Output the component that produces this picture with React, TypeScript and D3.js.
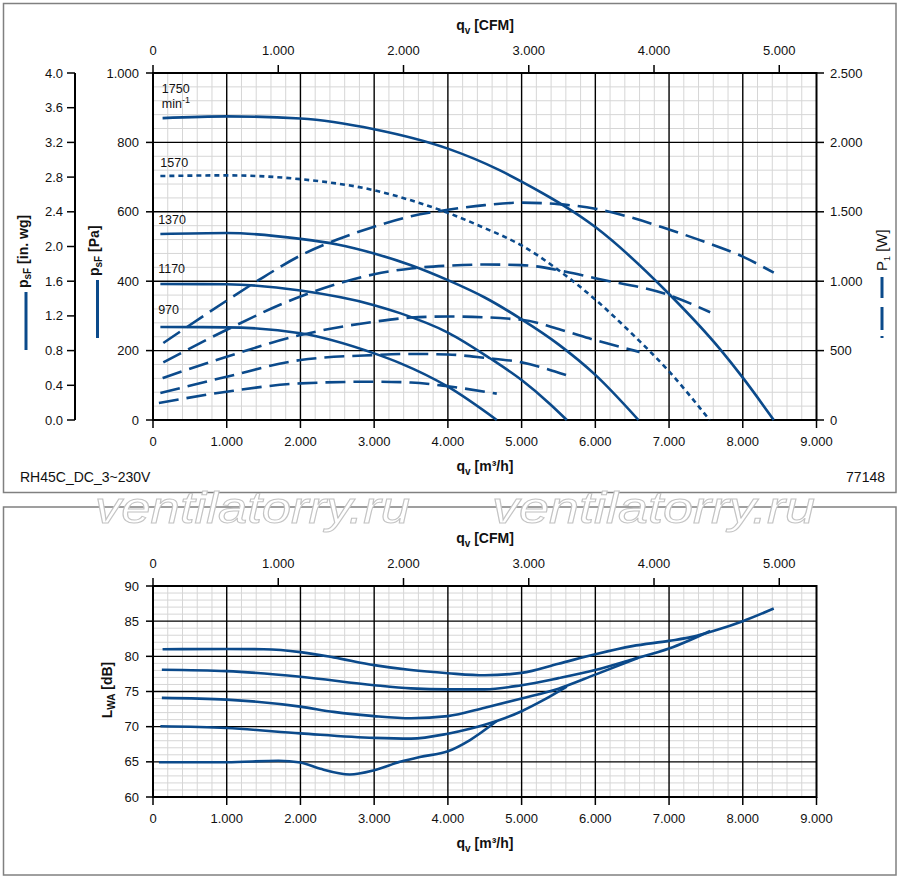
import * as d3 from 'd3';

// axis ticks
const FLOW_TICKS = [0, 1000, 2000, 3000, 4000, 5000, 6000, 7000, 8000, 9000];
const CFM_TICKS = [0, 1000, 2000, 3000, 4000, 5000];
const PA_TICKS = [0, 200, 400, 600, 800, 1000];
const INWG_TICKS = [0, 0.4, 0.8, 1.2, 1.6, 2.0, 2.4, 2.8, 3.2, 3.6, 4.0];
const W_TICKS = [0, 500, 1000, 1500, 2000, 2500];
const DB_TICKS = [60, 65, 70, 75, 80, 85, 90];

const SPEEDS = ['1750', '1570', '1370', '1170', '970'];

// static pressure p_sF [Pa] over q_v [m³/h]
const Q_PSF_1750 = [130, 1000, 2000, 3000, 4000, 4700, 5000, 6000, 7000, 7700, 8000, 8420];
const PSF_1750 = [870, 875, 869, 838, 782, 720, 687, 556, 363, 202, 122, 0];
const Q_PSF_1570 = [100, 1000, 2000, 3000, 3500, 4000, 4500, 5000, 5500, 6000, 6500, 7000, 7550];
const PSF_1570 = [703, 705, 694, 662, 633, 597, 553, 503, 432, 347, 248, 140, 0];
const Q_PSF_1370 = [100, 1000, 2000, 2500, 3000, 3500, 4000, 4500, 5000, 5500, 6000, 6585];
const PSF_1370 = [536, 539, 522, 506, 480, 446, 403, 353, 290, 218, 130, 0];
const Q_PSF_1170 = [100, 1000, 2000, 3000, 3350, 4000, 4570, 5000, 5380, 5613];
const PSF_1170 = [392, 391, 373, 331, 308, 252, 178, 115, 47, 0];
const Q_PSF_970 = [100, 1000, 2000, 3000, 3350, 4000, 4663];
const PSF_970 = [268, 267, 250, 192, 164, 96, 0];

// input power P1 [W]
const Q_P1_1750 = [140, 1000, 1500, 2000, 2500, 3000, 3500, 4000, 4500, 5000, 5500, 6000, 6500, 7000, 7500, 8000, 8420];
const P1_1750 = [555, 860, 1030, 1185, 1300, 1393, 1468, 1515, 1548, 1566, 1555, 1522, 1457, 1372, 1280, 1177, 1061];
const Q_P1_1570 = [140, 1000, 2000, 3000, 3500, 4000, 4500, 5000, 5600, 6000, 7000, 7558];
const P1_1570 = [415, 650, 890, 1050, 1092, 1112, 1120, 1116, 1068, 1021, 900, 776];
const Q_P1_1370 = [130, 1000, 2000, 3000, 3500, 4000, 5000, 5500, 6000, 6600];
const P1_1370 = [302, 456, 612, 708, 738, 746, 722, 655, 575, 490];
const Q_P1_1170 = [100, 1000, 2000, 3000, 3500, 4000, 4500, 5000, 5613];
const P1_1170 = [194, 312, 432, 468, 476, 472, 448, 415, 322];
const Q_P1_970 = [80, 1000, 2000, 3000, 3500, 4000, 4663];
const P1_970 = [122, 204, 264, 276, 270, 243, 190];

// sound power L_WA [dB]
const Q_LWA_1750 = [130, 1000, 1500, 2000, 2450, 3000, 3500, 4000, 4500, 5000, 5500, 6000, 6500, 7000, 7330, 7600, 8000, 8420];
const LWA_1750 = [81.0, 81.05, 81.0, 80.6, 79.85, 78.75, 78.05, 77.6, 77.3, 77.65, 78.95, 80.3, 81.45, 82.2, 82.8, 83.6, 85.0, 86.8];
const Q_LWA_1570 = [120, 1000, 2000, 3000, 3500, 4000, 4500, 5000, 5500, 6000, 6500, 7000, 7558];
const LWA_1570 = [78.1, 77.9, 77.1, 75.9, 75.45, 75.3, 75.3, 75.9, 76.9, 78.05, 79.55, 81.1, 83.6];
const Q_LWA_1370 = [120, 1000, 2000, 2450, 3000, 3500, 4000, 4500, 5000, 5500, 6000, 6585];
const LWA_1370 = [74.1, 73.85, 72.85, 72.1, 71.5, 71.2, 71.5, 72.7, 74.0, 75.4, 77.4, 79.8];
const Q_LWA_1170 = [100, 1000, 2000, 3000, 3500, 4000, 4300, 4663, 5000, 5300, 5613];
const LWA_1170 = [70.05, 69.8, 69.05, 68.4, 68.3, 69.0, 69.7, 70.8, 72.2, 73.8, 75.7];
const Q_LWA_970 = [80, 1000, 1700, 2000, 2270, 2670, 3000, 3350, 3620, 4000, 4300, 4663];
const LWA_970 = [64.95, 64.95, 65.15, 64.9, 64.0, 63.2, 63.8, 65.0, 65.7, 66.5, 68.1, 70.8];

// speed label anchors (q, Pa)
const LABEL_Q = [120, 100, 70, 70, 70];
const LABEL_PA = [942, 729, 565, 424, 305];

const BLUE = '#0b4a8b';
const FONT = '"Liberation Sans", Arial, Helvetica, sans-serif';
const MINOR = '#d6d6d6';

const fmt = d3.formatLocale({ decimal: ',', thousands: '.', grouping: [3], currency: ['', ''] }).format(',');
const fmtWg = d3.format('.1f');

type Pt = [number, number];
const zip = (q: number[], v: number[]): Pt[] => q.map((d, i) => [d, v[i]]);

export default function App() {
  const x = d3.scaleLinear().domain([0, 9000]).range([153, 816.5]);
  const xCfm = d3.scaleLinear().domain([0, 9000 / 1.699]).range([153, 816.5]);
  const yPa = d3.scaleLinear().domain([0, 1000]).range([420, 73]);
  const yWg = d3.scaleLinear().domain([0, 4]).range([420, 73]);
  const yW = d3.scaleLinear().domain([0, 2500]).range([420, 73]);
  const yDb = d3.scaleLinear().domain([60, 90]).range([797, 586]);

  const linePa = d3.line<Pt>().x(d => x(d[0])).y(d => yPa(d[1])).curve(d3.curveMonotoneX);
  const lineW = d3.line<Pt>().x(d => x(d[0])).y(d => yW(d[1])).curve(d3.curveMonotoneX);
  const lineDb = d3.line<Pt>().x(d => x(d[0])).y(d => yDb(d[1])).curve(d3.curveMonotoneX);

  const psf = [
    zip(Q_PSF_1750, PSF_1750),
    zip(Q_PSF_1570, PSF_1570),
    zip(Q_PSF_1370, PSF_1370),
    zip(Q_PSF_1170, PSF_1170),
    zip(Q_PSF_970, PSF_970),
  ];
  const p1 = [
    zip(Q_P1_1750, P1_1750),
    zip(Q_P1_1570, P1_1570),
    zip(Q_P1_1370, P1_1370),
    zip(Q_P1_1170, P1_1170),
    zip(Q_P1_970, P1_970),
  ];
  const lwa = [
    zip(Q_LWA_1750, LWA_1750),
    zip(Q_LWA_1570, LWA_1570),
    zip(Q_LWA_1370, LWA_1370),
    zip(Q_LWA_1170, LWA_1170),
    zip(Q_LWA_970, LWA_970),
  ];

  const minorX = d3.range(0, 9001, 200).filter(v => v % 1000 !== 0);
  const minorPa = d3.range(0, 1001, 40).filter(v => v % 200 !== 0);
  const minorDb = d3.range(60, 91, 1).filter(v => v % 5 !== 0);

  const [xl, xr] = x.range();

  const grid = (yScale: d3.ScaleLinear<number, number>, minorY: number[], majorY: number[]) => {
    const [yb, yt] = yScale.range();
    return (
      <g>
        {minorX.map(v => (
          <line key={'mx' + v} x1={x(v)} x2={x(v)} y1={yt} y2={yb} stroke={MINOR} strokeWidth={1} />
        ))}
        {minorY.map(v => (
          <line key={'my' + v} x1={xl} x2={xr} y1={yScale(v)} y2={yScale(v)} stroke={MINOR} strokeWidth={1} />
        ))}
        {FLOW_TICKS.slice(1, -1).map(v => (
          <line key={'Mx' + v} x1={x(v)} x2={x(v)} y1={yt} y2={yb} stroke="#000" strokeWidth={1.4} />
        ))}
        {majorY.slice(1, -1).map(v => (
          <line key={'My' + v} x1={xl} x2={xr} y1={yScale(v)} y2={yScale(v)} stroke="#000" strokeWidth={1.4} />
        ))}
        <rect x={xl} y={yt} width={xr - xl} height={yb - yt} fill="none" stroke="#000" strokeWidth={2} />
      </g>
    );
  };

  const flowAxes = (yb: number, yt: number) => (
    <g fontFamily={FONT} fontSize={13} fill="#111">
      {FLOW_TICKS.map(v => (
        <g key={'fx' + v}>
          <line x1={x(v)} x2={x(v)} y1={yb} y2={yb + 8} stroke="#000" strokeWidth={1.5} />
          <text x={x(v)} y={yb + 26} textAnchor="middle">{fmt(v)}</text>
        </g>
      ))}
      {CFM_TICKS.map(v => (
        <g key={'cx' + v}>
          <line x1={xCfm(v)} x2={xCfm(v)} y1={yt - 8} y2={yt} stroke="#000" strokeWidth={1.5} />
          <text x={xCfm(v)} y={yt - 18} textAnchor="middle">{fmt(v)}</text>
        </g>
      ))}
      <text x={485} y={yt - 43} textAnchor="middle" fontWeight="bold" fontSize={14}>
        q<tspan fontSize={10} dy={4}>v</tspan>
        <tspan dy={-4}> [CFM]</tspan>
      </text>
      <text x={485} y={yb + 51} textAnchor="middle" fontWeight="bold" fontSize={14}>
        q<tspan fontSize={10} dy={4}>v</tspan>
        <tspan dy={-4}> [m³/h]</tspan>
      </text>
    </g>
  );

  return (
    <svg
      width={900}
      height={879}
      style={{ position: 'absolute', left: 0, top: 0, background: '#fff' }}
      fontFamily={FONT}
    >
      <rect x={0} y={0} width={900} height={879} fill="#fff" />

      {/* ---------- top panel: pressure / power ---------- */}
      <rect x={3.5} y={3.5} width={892.5} height={489} fill="none" stroke="#808080" strokeWidth={1.5} />
      {grid(yPa, minorPa, PA_TICKS)}
      {flowAxes(420, 73)}

      {/* Pa axis */}
      <g fontSize={13} fill="#111">
        {PA_TICKS.map(v => (
          <g key={'pa' + v}>
            <line x1={146} x2={153} y1={yPa(v)} y2={yPa(v)} stroke="#000" strokeWidth={1.5} />
            <text x={139} y={yPa(v) + 4.5} textAnchor="end">{fmt(v)}</text>
          </g>
        ))}
      </g>
      {/* in. wg axis */}
      <g fontSize={13} fill="#111">
        <line x1={75} x2={75} y1={yWg(0)} y2={yWg(4)} stroke="#000" strokeWidth={2} />
        {INWG_TICKS.map(v => (
          <g key={'wg' + v}>
            <line x1={67} x2={75} y1={yWg(v)} y2={yWg(v)} stroke="#000" strokeWidth={1.5} />
            <text x={63} y={yWg(v) + 4.5} textAnchor="end">{fmtWg(v)}</text>
          </g>
        ))}
      </g>
      {/* W axis */}
      <g fontSize={13} fill="#111">
        {W_TICKS.map(v => (
          <g key={'w' + v}>
            <line x1={816.5} x2={824} y1={yW(v)} y2={yW(v)} stroke="#000" strokeWidth={1.5} />
            <text x={830} y={yW(v) + 4.5}>{fmt(v)}</text>
          </g>
        ))}
      </g>

      {/* axis titles with legend strokes */}
      <g transform="translate(26,350) rotate(-90)">
        <line x1={0} x2={58} y1={0} y2={0} stroke={BLUE} strokeWidth={3} />
        <text x={62} y={1.5} fontWeight="bold" fontSize={14} fill="#111">
          p<tspan fontSize={10} dy={3}>sF</tspan>
          <tspan dy={-3}> [in. wg]</tspan>
        </text>
      </g>
      <g transform="translate(97.5,338) rotate(-90)">
        <line x1={0} x2={58} y1={0} y2={0} stroke={BLUE} strokeWidth={3} />
        <text x={62} y={1.5} fontWeight="bold" fontSize={14} fill="#111">
          p<tspan fontSize={10} dy={3}>sF</tspan>
          <tspan dy={-3}> [Pa]</tspan>
        </text>
      </g>
      <g transform="translate(882,338) rotate(-90)">
        <line x1={0} x2={2} y1={0} y2={0} stroke={BLUE} strokeWidth={3} />
        <line x1={8} x2={31} y1={0} y2={0} stroke={BLUE} strokeWidth={3} />
        <line x1={40} x2={61} y1={0} y2={0} stroke={BLUE} strokeWidth={3} />
        <text x={67} y={5} fontSize={15} fill="#111">
          P<tspan fontSize={9} dy={3}>1</tspan>
          <tspan dy={-3}> [W]</tspan>
        </text>
      </g>

      {/* curves */}
      <g fill="none" stroke={BLUE} strokeWidth={2.6}>
        {p1.map((d, i) => (
          <path key={'p1' + i} d={lineW(d) ?? ''} strokeDasharray="20 8" />
        ))}
        {psf.map((d, i) => (
          <path key={'ps' + i} d={linePa(d) ?? ''} strokeDasharray={i === 1 ? '5 4' : undefined} />
        ))}
      </g>

      {/* speed labels */}
      <g fontSize={12.5} fill="#111">
        {SPEEDS.map((s, i) => (
          <text key={s} x={x(LABEL_Q[i])} y={yPa(LABEL_PA[i])}>{s}</text>
        ))}
        <text x={x(LABEL_Q[0])} y={yPa(LABEL_PA[0]) + 15}>
          min<tspan fontSize={9} dy={-5}>-1</tspan>
        </text>
      </g>

      <text x={20} y={482} fontSize={14} fill="#111">RH45C_DC_3~230V</text>
      <text x={885} y={482} fontSize={14} fill="#111" textAnchor="end">77148</text>

      {/* ---------- bottom panel: sound power ---------- */}
      <rect x={3.5} y={507} width={892.5} height={368} fill="none" stroke="#808080" strokeWidth={1.5} />
      {grid(yDb, minorDb, DB_TICKS)}
      {flowAxes(797, 586)}
      <g fontSize={13} fill="#111">
        {DB_TICKS.map(v => (
          <g key={'db' + v}>
            <line x1={146} x2={153} y1={yDb(v)} y2={yDb(v)} stroke="#000" strokeWidth={1.5} />
            <text x={139} y={yDb(v) + 4.5} textAnchor="end">{v}</text>
          </g>
        ))}
      </g>
      <text transform="translate(112,690) rotate(-90)" textAnchor="middle" fontWeight="bold" fontSize={14} fill="#111">
        L<tspan fontSize={10} dy={3}>WA</tspan>
        <tspan dy={-3}> [dB]</tspan>
      </text>
      <g fill="none" stroke={BLUE} strokeWidth={2.6}>
        {lwa.map((d, i) => (
          <path key={'lw' + i} d={lineDb(d) ?? ''} />
        ))}
      </g>

      {/* watermark */}
      <g fontSize={44} fontStyle="italic" fill="#fff" stroke="#c4c4c4" strokeWidth={1}>
        <text x={95} y={523} textLength={315} lengthAdjust="spacingAndGlyphs">ventilatorry.ru</text>
        <text x={492} y={523} textLength={323} lengthAdjust="spacingAndGlyphs">ventilatorry.ru</text>
      </g>
    </svg>
  );
}
